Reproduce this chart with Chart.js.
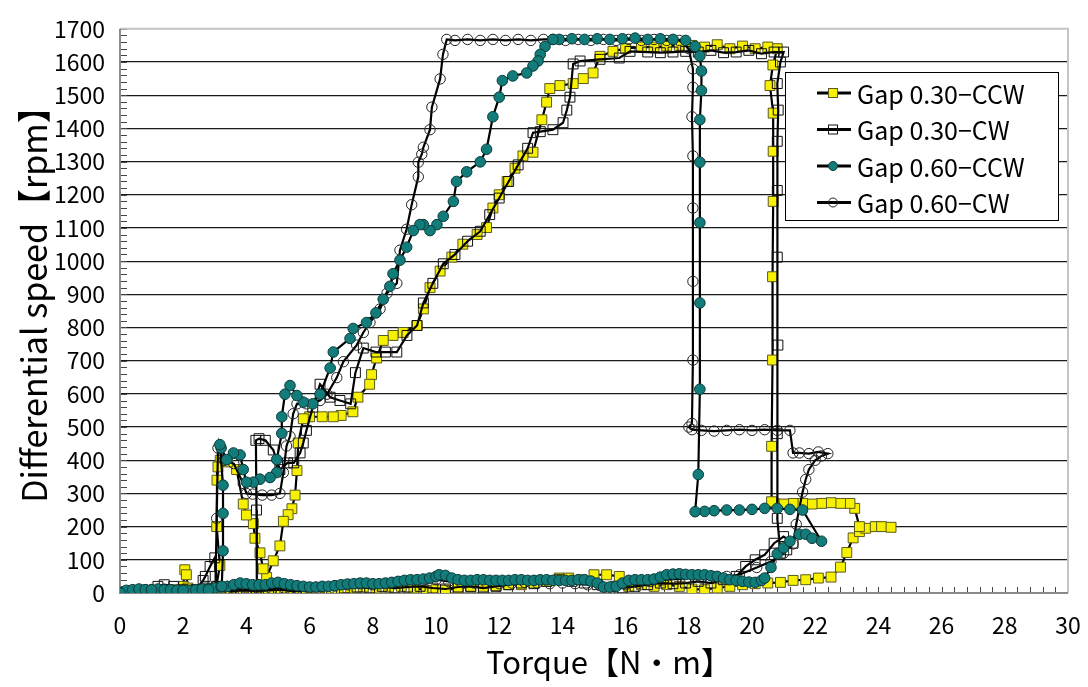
<!DOCTYPE html>
<html>
<head>
<meta charset="utf-8">
<script src="https://cdn.jsdelivr.net/npm/chart.js@4.4.1/dist/chart.umd.min.js"></script>
<style>
  html, body { margin: 0; padding: 0; background: #fff; }
  #wrap { width: 1088px; height: 687px; }
</style>
</head>
<body>
<div id="wrap"><canvas id="torqueChart" width="1088" height="687"></canvas></div>
<script>
// each run is a path of [torque N·m, differential speed rpm]
const gap030ccw = [
  [0,0],[0.3,3],[0.6,5],[0.9,5],[1.2,6],[1.5,8],[1.8,10],[2.0,20],[2.05,70],[2.1,55],[2.15,15],[2.5,8],
  [2.9,10],[3.3,8],[3.7,10],[4.1,5],[4.5,8],[4.9,12],[5.3,10],[5.7,8],[6.1,5],[6.5,10],[6.9,12],[7.3,15],
  [7.7,18],[8.1,15],[8.5,18],[8.9,20],[9.3,15],[9.7,8],[10.0,10],[10.3,8],[10.7,15],[11.1,18],[11.5,20],
  [11.9,22],[12.3,25],[12.7,25],[13.1,30],[13.5,35],[13.9,45],[14.2,45],[14.6,40],[15.0,55],[15.4,55],
  [15.8,50],[16.1,20],[16.5,25],[16.9,20],[17.3,25],[17.7,20],[18.1,12],[18.5,10],[18.9,15],[19.3,20],
  [19.7,25],[20.1,28],[20.5,30],[20.9,32],[21.3,38],[21.7,40],[22.1,45],[22.5,48],[22.8,78],[23.0,122],
  [23.2,166],[23.4,185],[23.6,195],[23.9,200],[24.1,200],[24.4,198],[23.4,200],[23.25,255],[23.1,270],
  [22.8,270],[22.5,272],[22.2,270],[21.9,268],[21.6,270],[21.3,270],[21.0,268],[20.7,270],[20.62,275],
  [20.62,442],[20.65,702],[20.65,953],[20.67,1180],[20.67,1331],[20.67,1446],[20.57,1529],[20.66,1591],
  [20.8,1640],[20.5,1645],[20.1,1640],[19.7,1648],[19.3,1640],[18.9,1652],[18.5,1645],[18.1,1650],
  [17.7,1650],[17.3,1648],[16.9,1645],[16.5,1645],[16.0,1641],[15.6,1632],[15.19,1617],[14.97,1567],
  [14.66,1550],[14.34,1535],[13.92,1529],[13.6,1520],[13.5,1479],[13.35,1426],[13.07,1328],[12.75,1317],
  [12.5,1280],[12.25,1240],[12.0,1200],[11.8,1160],[11.6,1101],[11.3,1080],[10.85,1051],[10.5,1012],
  [10.13,970],[9.81,920],[9.6,856],[9.4,806],[8.96,785],[8.64,776],[8.33,761],[8.12,708],[7.96,658],
  [7.9,629],[7.53,590],[7.37,546],[7.0,535],[6.75,531],[6.4,531],[6.0,531],[5.8,525],[5.64,452],
  [5.6,369],[5.54,295],[5.44,254],[5.32,236],[5.17,216],[5.06,142],[4.85,97],[4.64,47],[4.53,73],
  [4.43,121],[4.27,165],[4.22,209],[4.0,235],[3.9,268],[3.69,372],[3.4,395],[3.17,400],[3.1,380],
  [3.07,340],[3.06,200],[3.16,83],[3.05,20],[2.6,10],[2.0,5],[1.0,3],[0,0]
];
const gap030cw = [
  [0,0],[0.4,5],[0.8,8],[1.2,20],[1.4,25],[1.7,20],[2.0,10],[2.4,8],[2.7,15],[3.1,10],[3.5,5],[3.9,8],
  [4.3,5],[4.7,8],[5.1,10],[5.5,5],[5.9,8],[6.3,10],[6.7,12],[7.1,15],[7.5,18],[7.9,15],[8.3,20],[8.7,15],
  [9.1,18],[9.5,20],[9.9,15],[10.3,12],[10.7,18],[11.1,20],[11.5,15],[11.9,20],[12.3,25],[12.7,30],
  [13.1,28],[13.5,35],[13.9,40],[14.3,35],[14.7,30],[15.1,25],[15.5,5],[15.9,15],[16.3,20],[16.7,25],
  [17.1,30],[17.5,28],[17.9,30],[18.3,35],[18.7,30],[19.1,40],[19.5,50],[19.8,80],[20.1,100],[20.4,115],
  [20.7,150],[21.0,170],[21.3,150],[21.1,130],[20.9,120],[20.8,225],[20.8,480],[20.82,747],[20.8,1012],
  [20.8,1213],[20.8,1361],[20.83,1455],[20.8,1535],[20.9,1600],[21.0,1630],[20.7,1630],[20.3,1625],
  [19.9,1635],[19.5,1630],[19.1,1628],[18.7,1635],[18.3,1630],[17.9,1632],[17.5,1630],[17.1,1628],
  [16.7,1630],[16.14,1632],[15.8,1612],[15.19,1608],[14.56,1603],[14.34,1594],[14.24,1494],[14.14,1455],
  [14.02,1417],[13.7,1396],[13.3,1390],[13.07,1387],[12.9,1340],[12.6,1290],[12.3,1240],[12.0,1190],
  [11.7,1140],[11.4,1090],[11.0,1060],[10.6,1020],[10.23,992],[9.9,933],[9.6,874],[9.4,806],[9.08,776],
  [8.76,726],[8.4,726],[8.1,726],[7.7,738],[7.45,664],[7.3,570],[6.96,580],[6.65,590],[6.33,629],
  [6.1,560],[5.9,490],[5.8,452],[5.7,422],[5.5,392],[5.3,392],[5.06,372],[4.85,431],[4.6,460],[4.4,465],
  [4.3,460],[4.32,250],[4.33,20],[4.0,10],[3.5,8],[3.07,20],[3.0,106],[2.85,80],[2.7,50],[2.63,38],
  [2.4,10],[1.5,5],[0,0]
];
const gap060ccw = [
  [0,0],[0.2,8],[0.4,10],[0.6,12],[0.8,10],[1.0,10],[1.2,12],[1.4,10],[1.6,10],[1.8,8],[2.0,8],[2.2,8],
  [2.4,10],[2.6,12],[2.8,12],[3.0,15],[3.2,18],[3.4,20],[3.6,25],[3.8,30],[4.0,28],[4.2,25],[4.4,25],
  [4.6,25],[4.8,30],[5.0,32],[5.2,28],[5.4,25],[5.6,22],[5.8,20],[6.0,18],[6.2,18],[6.4,20],[6.6,20],
  [6.8,22],[7.0,25],[7.2,27],[7.4,28],[7.6,30],[7.8,30],[8.0,28],[8.2,28],[8.4,30],[8.6,32],[8.8,35],
  [9.0,38],[9.2,40],[9.4,40],[9.6,42],[9.8,45],[10.0,50],[10.1,55],[10.3,53],[10.5,45],[10.7,40],
  [10.9,38],[11.1,38],[11.3,40],[11.5,40],[11.7,38],[11.9,38],[12.1,38],[12.3,38],[12.5,40],[12.7,40],
  [12.9,38],[13.1,38],[13.3,40],[13.5,40],[13.7,38],[13.9,38],[14.1,38],[14.3,38],[14.5,40],[14.7,40],
  [14.9,36],[15.1,30],[15.3,18],[15.5,18],[15.7,20],[15.9,30],[16.1,38],[16.3,40],[16.5,40],[16.7,40],
  [16.9,42],[17.1,48],[17.3,55],[17.5,57],[17.7,58],[17.9,56],[18.1,55],[18.3,55],[18.5,55],[18.7,52],
  [18.9,50],[19.1,45],[19.3,40],[19.5,38],[19.7,35],[19.9,33],[20.1,32],[20.3,38],[20.4,45],
  [20.6,77],[20.8,118],[21.0,136],[21.2,156],[21.5,177],[21.7,177],
  [21.9,165],[22.2,156],[21.6,250],[21.2,252],[20.8,255],[20.4,255],[20.0,252],[19.6,250],[19.2,250],
  [18.8,248],[18.5,246],[18.2,245],[18.3,357],[18.35,614],[18.35,874],[18.35,1116],[18.35,1298],
  [18.35,1426],[18.4,1514],[18.4,1573],[18.35,1618],[18.2,1647],[17.9,1665],[17.5,1668],[17.1,1670],
  [16.7,1668],[16.3,1672],[15.9,1670],[15.5,1668],[15.1,1670],[14.7,1668],[14.3,1670],[13.9,1668],
  [13.7,1668],[13.45,1647],[13.3,1623],[13.23,1603],[13.07,1588],[12.87,1567],[12.43,1558],[12.1,1544],
  [12.0,1494],[11.8,1435],[11.6,1337],[11.4,1299],[10.97,1269],[10.65,1240],[10.55,1180],[10.23,1135],
  [10.03,1110],[9.81,1092],[9.6,1110],[9.49,1110],[9.28,1092],[9.07,1042],[8.86,1003],[8.64,962],
  [8.54,924],[8.33,885],[8.1,844],[7.8,815],[7.38,797],[7.28,767],[6.75,726],[6.65,678],[6.33,599],
  [6.1,570],[5.8,575],[5.6,595],[5.38,625],[5.22,599],[5.12,531],[5.12,481],[4.96,402],[4.96,363],
  [4.75,348],[4.43,343],[4.22,334],[4.0,334],[3.9,372],[3.8,416],[3.59,422],[3.38,402],[3.2,437],
  [3.16,447],[3.26,325],[3.26,240],[3.26,127],[3.22,20],[2.8,10],[2.0,8],[1.0,10],[0,0]
];
const gap060cw = [
  [0,0],[0.4,8],[0.8,10],[1.2,8],[1.6,10],[2.0,8],[2.4,10],[2.8,10],[3.2,12],[3.6,15],[4.0,18],[4.4,15],
  [4.8,12],[5.2,15],[5.6,12],[6.0,15],[6.4,18],[6.8,22],[7.2,25],[7.6,28],[8.0,25],[8.4,28],[8.8,30],
  [9.2,35],[9.6,38],[10.0,40],[10.4,35],[10.8,32],[11.2,30],[11.6,30],[12.0,28],[12.4,30],[12.8,32],
  [13.2,30],[13.6,28],[14.0,30],[14.4,28],[14.8,25],[15.2,22],[15.6,20],[16.0,25],[16.4,30],[16.8,35],
  [17.2,40],[17.6,42],[18.0,45],[18.4,45],[18.8,48],[19.2,50],[19.6,55],[20.15,77],[20.6,95],[21.0,120],
  [21.3,148],[21.4,207],[21.6,304],[21.7,342],[21.8,372],[22.0,400],[22.2,413],[22.4,420],[22.1,425],
  [21.8,420],[21.5,422],[21.3,422],[21.2,490],[20.8,490],[20.4,492],[20.0,490],[19.6,492],[19.2,490],
  [18.8,488],[18.4,490],[18.1,492],[18.0,500],[18.1,511],[18.13,702],[18.13,939],[18.13,1160],
  [18.13,1317],[18.1,1435],[18.13,1524],[18.13,1579],[18.0,1640],[17.7,1665],[17.3,1665],[16.9,1668],
  [16.5,1665],[16.1,1668],[15.7,1665],[15.3,1668],[14.9,1665],[14.5,1668],[14.1,1665],[13.7,1668],
  [13.4,1668],[13.0,1665],[12.6,1668],[12.2,1665],[11.8,1668],[11.4,1665],[11.0,1668],[10.6,1665],
  [10.34,1668],[10.22,1623],[10.13,1549],[9.87,1464],[9.81,1396],[9.6,1343],[9.55,1322],[9.44,1298],
  [9.44,1254],[9.23,1170],[9.07,1096],[8.86,1033],[8.76,933],[8.45,903],[8.23,856],[7.91,815],[7.7,785],
  [7.49,747],[7.07,697],[6.86,649],[6.55,599],[6.33,580],[5.9,570],[5.6,570],[5.48,540],[5.38,472],
  [5.27,443],[5.17,363],[5.06,300],[4.8,295],[4.5,295],[4.2,298],[4.0,300],[3.9,330],[3.6,390],[3.3,400],
  [3.1,437],[3.06,225],[3.02,20],[2.5,10],[1.5,8],[0,0]
];
const seriesNames = ['Gap 0.30\u2212CCW', 'Gap 0.30\u2212CW', 'Gap 0.60\u2212CCW', 'Gap 0.60\u2212CW'];
const xTitle = 'Torque【N・m】';
const yTitle = 'Differential speed【rpm】';

const FONT = '"Noto Sans CJK JP", "Noto Sans", sans-serif';

function toPoints(pairs) {
    return pairs.map(p => ({x: p[0], y: p[1]}));
}

// minor ticks, plot frame, axis titles and the boxed legend
const frameAndLegend = {
    id: 'frameAndLegend',
    beforeDatasetsDraw(chart) {
        const {ctx, chartArea: a, scales: {x, y}} = chart;
        ctx.save();
        ctx.strokeStyle = '#444';
        ctx.lineWidth = 1;
        ctx.beginPath();
        for (let v = 0; v <= 1700; v += 20) {
            const py = Math.round(y.getPixelForValue(v)) + 0.5;
            ctx.moveTo(a.left, py); ctx.lineTo(a.left + 7, py);
        }
        for (let i = 0; i <= 75; i++) {
            const px = Math.round(x.getPixelForValue(i * 0.4)) + 0.5;
            ctx.moveTo(px, a.bottom); ctx.lineTo(px, a.bottom - 6);
        }
        ctx.stroke();
        ctx.lineWidth = 2;
        ctx.strokeStyle = '#c4c4c4';
        ctx.beginPath();
        ctx.moveTo(a.left, a.top); ctx.lineTo(a.right, a.top); ctx.lineTo(a.right, a.bottom);
        ctx.stroke();
        ctx.strokeStyle = '#8a8a8a';
        ctx.beginPath();
        ctx.moveTo(a.left, a.top); ctx.lineTo(a.left, a.bottom); ctx.lineTo(a.right, a.bottom);
        ctx.stroke();

        ctx.fillStyle = '#000';
        ctx.textAlign = 'center';
        ctx.textBaseline = 'middle';
        ctx.font = '31px ' + FONT;
        ctx.fillText(xTitle, 609, 662);

        ctx.translate(34, 296);
        ctx.rotate(-Math.PI / 2);
        ctx.font = '34px ' + FONT;
        ctx.fillText(yTitle, 0, 0);
        ctx.restore();
    },
    afterDraw(chart) {
        const ctx = chart.ctx;
        const box = {x: 785.5, y: 72.5, w: 273, h: 148};
        ctx.save();
        ctx.fillStyle = '#fff';
        ctx.fillRect(box.x, box.y, box.w, box.h);
        ctx.strokeStyle = '#000';
        ctx.lineWidth = 1;
        ctx.strokeRect(box.x, box.y, box.w, box.h);
        chart.data.datasets.forEach((ds, i) => {
            const cy = 93 + i * 36.5;
            ctx.strokeStyle = '#000';
            ctx.lineWidth = 3;
            ctx.beginPath();
            ctx.moveTo(817, cy); ctx.lineTo(851, cy);
            ctx.stroke();
            ctx.fillStyle = ds.pointBackgroundColor;
            ctx.strokeStyle = ds.pointBorderColor;
            ctx.lineWidth = 1;
            if (ds.pointStyle === 'rect') {
                ctx.fillRect(828.5, cy - 4.5, 9, 9);
                ctx.strokeRect(828.5, cy - 4.5, 9, 9);
            } else {
                ctx.beginPath();
                ctx.arc(833, cy, 4.5, 0, Math.PI * 2);
                ctx.fill();
                ctx.stroke();
            }
            ctx.fillStyle = '#000';
            ctx.font = '25px ' + FONT;
            ctx.textBaseline = 'middle';
            ctx.textAlign = 'left';
            ctx.fillText(ds.label, 857, cy + 1);
        });
        ctx.restore();
    }
};

const datasets = [
    {label: seriesNames[0], data: toPoints(gap030ccw), pointStyle: 'rect', pointRadius: 7,
     pointBackgroundColor: '#f7f000', pointBorderColor: '#5a5a20', order: 4},
    {label: seriesNames[1], data: toPoints(gap030cw), pointStyle: 'rect', pointRadius: 7,
     pointBackgroundColor: 'rgba(255,255,255,0)', pointBorderColor: '#111', order: 3},
    {label: seriesNames[2], data: toPoints(gap060ccw), pointStyle: 'circle', pointRadius: 5.3,
     pointBackgroundColor: '#127c7a', pointBorderColor: '#0b3b3a', order: 1},
    {label: seriesNames[3], data: toPoints(gap060cw), pointStyle: 'circle', pointRadius: 5.2,
     pointBackgroundColor: 'rgba(255,255,255,0)', pointBorderColor: '#222', order: 2}
].map(d => Object.assign(d, {showLine: true, borderColor: '#000', borderWidth: 2.2, pointBorderWidth: 1, tension: 0}));

new Chart(document.getElementById('torqueChart'), {
    type: 'scatter',
    data: {datasets: datasets},
    options: {
        responsive: false,
        animation: false,
        layout: {padding: {top: 17, right: 20, left: 0, bottom: 0}},
        plugins: {legend: {display: false}, tooltip: {enabled: false}},
        scales: {
            x: {
                type: 'linear', min: 0, max: 30,
                afterFit: s => { s.height = 94; s.paddingRight = 0; s.paddingLeft = 0; },
                ticks: {stepSize: 2, padding: 18, color: '#000', font: {family: FONT, size: 23}},
                grid: {display: false, drawTicks: false},
                border: {display: false},
                title: {display: false}
            },
            y: {
                type: 'linear', min: 0, max: 1700,
                afterFit: s => { s.width = 120; },
                ticks: {stepSize: 100, padding: 15, color: '#000', font: {family: FONT, size: 23},
                        callback: v => String(v)},
                grid: {
                    drawTicks: false, lineWidth: 1.2,
                    color: c => (c.tick.value === 0 || c.tick.value === 1700) ? 'rgba(0,0,0,0)' : '#1a1a1a'
                },
                border: {display: false},
                title: {display: false}
            }
        }
    },
    plugins: [frameAndLegend]
});
</script>
</body>
</html>
